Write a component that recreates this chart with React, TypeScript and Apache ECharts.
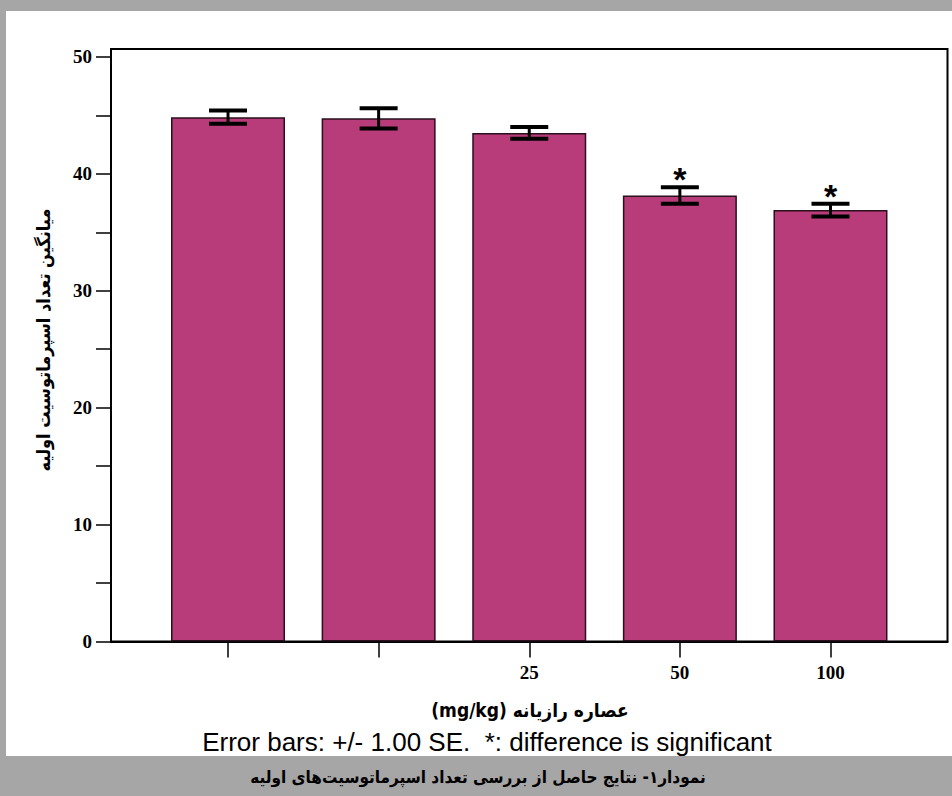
import React, { useEffect, useRef } from 'react';
import * as echarts from 'echarts';

// ---- data ----
const categories = ['', '', '25', '50', '100'];
const positions = [1, 2, 3, 4, 5];
const means = [44.85, 44.75, 43.5, 38.15, 36.9];
const errors = [0.57, 0.87, 0.5, 0.7, 0.55];
const significant = [0, 0, 0, 1, 1];
const yTickValues = [0, 5, 10, 15, 20, 25, 30, 35, 40, 45, 50];
const yLabelValues = [0, 10, 20, 30, 40, 50];
const xLabelValues = [3, 4, 5];

const yAxisTitle = 'میانگین تعداد اسپرماتوسیت اولیه';
const xAxisTitle = '(mg/kg) عصاره رازیانه';
const noteText = 'Error bars: +/- 1.00 SE.  *: difference is significant';
const captionText = 'نمودار۱- نتایج حاصل از بررسی تعداد اسپرماتوسیت‌های اولیه';

export default function App() {
  const ref = useRef<HTMLDivElement>(null);
  useEffect(() => {
    if (!ref.current) return;
    const chart = echarts.init(ref.current, null, { renderer: 'svg' });
    const barData = positions.map((p, i) => [p, means[i]]);
    const errData = positions.map((p, i) => [p, means[i], errors[i], significant[i]]);
    const option: any = {
      animation: false,
      backgroundColor: '#ffffff',
      grid: {
        left: 111,
        right: 4.5,
        top: 49,
        bottom: 154.5,
        show: true,
        borderColor: '#000',
        borderWidth: 2,
        backgroundColor: 'transparent',
      },
      xAxis: {
        type: 'value',
        min: 0.2231,
        max: 5.7769,
        splitLine: { show: false },
        axisLine: { onZero: false, lineStyle: { color: '#000', width: 2 } },
        axisTick: { show: true, customValues: positions, length: 16, lineStyle: { color: '#000', width: 1.5 } },
        axisLabel: {
          customValues: xLabelValues,
          formatter: (v: number) => categories[Math.round(v) - 1] ?? '',
          fontFamily: 'Liberation Serif',
          fontWeight: 'bold',
          fontSize: 19,
          color: '#000',
          margin: 21,
        },
      },
      yAxis: {
        type: 'value',
        min: 0,
        max: 50.68,
        splitLine: { show: false },
        axisLine: { show: true, onZero: false, lineStyle: { color: '#000', width: 2 } },
        axisTick: { show: true, customValues: yTickValues, length: 15, lineStyle: { color: '#000', width: 1.5 } },
        axisLabel: {
          customValues: yLabelValues,
          fontFamily: 'Liberation Serif',
          fontWeight: 'bold',
          fontSize: 19,
          color: '#000',
          margin: 19,
        },
      },
      series: [
        {
          type: 'bar',
          data: barData,
          barWidth: 114,
          itemStyle: { color: '#b93c7a', borderColor: '#2a0f1c', borderWidth: 1.5 },
          silent: true,
        },
        {
          type: 'custom',
          data: errData,
          z: 5,
          silent: true,
          renderItem: (params: any, api: any) => {
            const x = api.value(0);
            const m = api.value(1);
            const e = api.value(2);
            const s = api.value(3);
            const top = api.coord([x, m + e]);
            const bot = api.coord([x, m - e]);
            const half = 19;
            const children: any[] = [
              { type: 'line', shape: { x1: top[0], y1: top[1], x2: bot[0], y2: bot[1] }, style: { stroke: '#000', lineWidth: 3 } },
              { type: 'line', shape: { x1: top[0] - half, y1: top[1], x2: top[0] + half, y2: top[1] }, style: { stroke: '#000', lineWidth: 4 } },
              { type: 'line', shape: { x1: bot[0] - half, y1: bot[1], x2: bot[0] + half, y2: bot[1] }, style: { stroke: '#000', lineWidth: 4 } },
            ];
            if (s) {
              children.push({
                type: 'text',
                x: top[0],
                y: top[1] - 8,
                style: {
                  text: '*',
                  fontSize: 34,
                  fontWeight: 'bold',
                  fontFamily: 'Liberation Sans',
                  textAlign: 'center',
                  textVerticalAlign: 'middle',
                  fill: '#000',
                },
              });
            }
            return { type: 'group', children };
          },
        },
      ],
      graphic: [
        { type: 'rect', shape: { x: 0, y: 0, width: 952, height: 11 }, style: { fill: '#a6a6a6' } },
        { type: 'rect', shape: { x: 0, y: 0, width: 6, height: 796 }, style: { fill: '#a6a6a6' } },
        { type: 'rect', shape: { x: 0, y: 756, width: 952, height: 40 }, style: { fill: '#a6a6a6' } },
        {
          type: 'text',
          x: 43,
          y: 340,
          rotation: Math.PI / 2,
          style: {
            text: yAxisTitle,
            fontFamily: 'DejaVu Sans Condensed, DejaVu Sans',
            fontWeight: 'bold',
            fontSize: 18,
            fill: '#000',
            textAlign: 'center',
            textVerticalAlign: 'middle',
          },
        },
        {
          type: 'text',
          x: 530,
          y: 710,
          style: {
            text: xAxisTitle,
            fontFamily: 'DejaVu Sans Condensed, DejaVu Sans',
            fontWeight: 'bold',
            fontSize: 19,
            fill: '#000',
            textAlign: 'center',
            textVerticalAlign: 'middle',
          },
        },
        {
          type: 'text',
          x: 487,
          y: 742,
          style: {
            text: noteText,
            fontFamily: 'Liberation Sans',
            fontSize: 26,
            fill: '#000',
            textAlign: 'center',
            textVerticalAlign: 'middle',
          },
        },
        {
          type: 'text',
          x: 478,
          y: 777,
          style: {
            text: captionText,
            fontFamily: 'DejaVu Sans Condensed, DejaVu Sans',
            fontWeight: 'bold',
            fontSize: 17,
            fill: '#000',
            textAlign: 'center',
            textVerticalAlign: 'middle',
          },
        },
      ],
    };
    chart.setOption(option);
    return () => chart.dispose();
  }, []);
  return (
    <div
      ref={ref}
      style={{ position: 'fixed', left: 0, top: 0, width: 952, height: 796 }}
    />
  );
}
